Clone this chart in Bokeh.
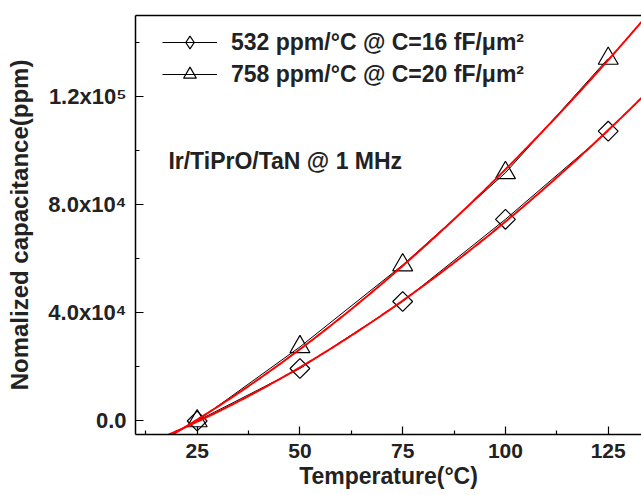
import numpy as np
from bokeh.plotting import figure
from bokeh.models import (Range1d, FixedTicker, LinearAxis, Legend, LegendItem, Label,
                          ColumnDataSource)
from bokeh.embed import file_html
from bokeh.resources import INLINE

# ---- data ----
temperature = [25, 50, 75, 100, 125]
cap_532 = [0, 19400, 44200, 74600, 107200]
cap_758 = [0, 27400, 57700, 91800, 134100]
legend_labels = ["532 ppm/°C @ C=16 fF/μm²", "758 ppm/°C @ C=20 fF/μm²"]
annotation_text = "Ir/TiPrO/TaN @ 1 MHz"
panel_tag = "(b)"
x_ticks = [25, 50, 75, 100, 125]
x_minor = [12.5, 37.5, 62.5, 87.5, 112.5]
y_ticks = [0, 40000, 80000, 120000]
y_tick_labels = ["0.0", "4.0x10⁴", "8.0x10⁴", "1.2x10⁵"]
y_minor = [20000, 60000, 100000, 140000]

FONT = "Liberation Sans"

# quadratic fits of the data (red curves)
fit_x = np.linspace(5, 140, 300)
fit_532 = np.polyval(np.polyfit(temperature, cap_532, 2), fit_x)
fit_758 = np.polyval(np.polyfit(temperature, cap_758, 2), fit_x)

src = ColumnDataSource(dict(t=temperature, a=cap_532, b=cap_758))
fit_src = ColumnDataSource(dict(x=fit_x, a=fit_532, b=fit_758))

p = figure(width=641, height=495, output_backend="svg", toolbar_location=None,
           x_range=Range1d(10, 133.1), y_range=Range1d(-5000, 150000),
           min_border_left=135, min_border_right=0, min_border_top=15, min_border_bottom=61)
p.outline_line_color = None
p.xgrid.visible = False
p.ygrid.visible = False
p.background_fill_color = "white"
p.border_fill_color = "white"

# connecting black lines
l1 = p.line("t", "a", source=src, line_color="black", line_width=1)
l2 = p.line("t", "b", source=src, line_color="black", line_width=1)
# markers
p.scatter("t", "a", source=src, marker="square", angle=np.pi / 4, size=14,
          fill_color=None, line_color="black", line_width=1.2)
p.scatter("t", "b", source=src, marker="triangle", size=20,
          fill_color=None, line_color="black", line_width=1.2)
# legend proxies (hidden in plot)
m1 = p.scatter("t", "a", source=src, marker="diamond", size=14,
               fill_color=None, line_color="black", line_width=1.2, visible=False)
m2 = p.scatter("t", "b", source=src, marker="triangle", size=14,
               fill_color=None, line_color="black", line_width=1.2, visible=False)
# red fit curves
p.line("x", "a", source=fit_src, line_color="#ff0000", line_width=2)
p.line("x", "b", source=fit_src, line_color="#ff0000", line_width=2)

# axes
for ax in (p.xaxis[0], p.yaxis[0]):
    ax.axis_line_width = 1.5
    ax.axis_line_color = "black"
    ax.major_tick_in = 8
    ax.major_tick_out = 0
    ax.minor_tick_in = 4
    ax.minor_tick_out = 0
    ax.major_tick_line_width = 1.2
    ax.minor_tick_line_width = 1.2
    ax.major_label_text_font = FONT
    ax.major_label_text_font_style = "bold"
    ax.major_label_text_font_size = "22px"
    ax.major_label_text_color = "#222222"
    ax.axis_label_text_font = FONT
    ax.axis_label_text_font_style = "bold"
    ax.axis_label_text_font_size = "24px"
    ax.axis_label_text_color = "#222222"

p.xaxis[0].major_label_text_font_size = "21px"
p.xaxis[0].axis_label_text_font_size = "23px"
p.xaxis[0].major_label_standoff = 9
p.yaxis[0].major_label_standoff = 9
p.xaxis[0].ticker = FixedTicker(ticks=x_ticks, minor_ticks=x_minor)
p.yaxis[0].ticker = FixedTicker(ticks=y_ticks, minor_ticks=y_minor)
p.yaxis[0].major_label_overrides = {t: s for t, s in zip(y_ticks, y_tick_labels)}
p.xaxis[0].axis_label = "Temperature(°C)"
p.yaxis[0].axis_label = "Nomalized capacitance(ppm)"
p.xaxis[0].axis_label_standoff = 2
p.yaxis[0].axis_label_standoff = 12

top = LinearAxis(ticker=FixedTicker(ticks=[]), major_label_text_font_size="0px",
                 axis_line_width=1.5, major_tick_in=0, major_tick_out=0,
                 minor_tick_in=0, minor_tick_out=0)
p.add_layout(top, "above")

legend = Legend(items=[LegendItem(label=legend_labels[0], renderers=[l1, m1]),
                       LegendItem(label=legend_labels[1], renderers=[l2, m2])],
                location=(27, 344), margin=0, padding=0, spacing=0,
                glyph_width=55, glyph_height=32, label_standoff=14,
                label_text_font=FONT, label_text_font_style="bold",
                label_text_font_size="23px", label_text_color="#222222",
                border_line_color=None, background_fill_alpha=0)
p.add_layout(legend)

p.add_layout(Label(x=18, y=96300, text=annotation_text, text_font=FONT,
                   text_font_style="bold", text_font_size="23px", text_color="#222222",
                   text_baseline="alphabetic"))

# panel tag "(b)" outside the frame, as an HTML label (canvas annotations are clipped)
try:
    from bokeh.models import HTMLLabel
    p.add_layout(HTMLLabel(x=-19.9, y=-23700, text=panel_tag, text_font=FONT,
                           text_font_size="17px", text_color="#222222",
                           text_baseline="middle"))
except ImportError:
    pass

open("out.html", "w").write(file_html(p, INLINE))
